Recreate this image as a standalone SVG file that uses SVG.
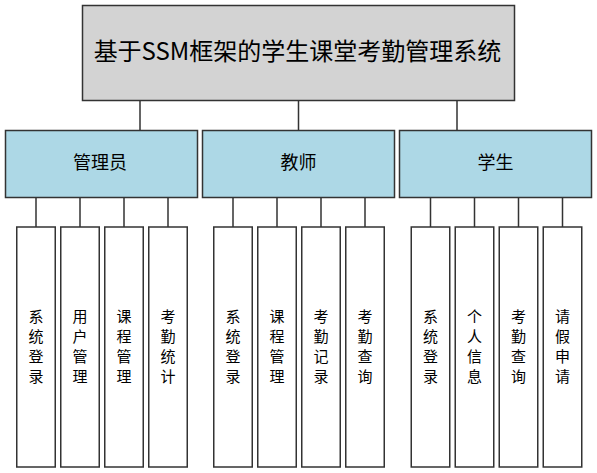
<svg xmlns="http://www.w3.org/2000/svg" width="597" height="473" viewBox="0 0 597 473">
<style>
.b{stroke:#333;stroke-width:1.5}
.t{font-family:"Noto Sans CJK SC","Noto Sans",sans-serif;fill:#000;text-anchor:middle}
.l{fill:#fff}
.lt{font-size:15px}
.c{stroke:#333;stroke-width:1.5;fill:none}
</style>
<rect width="597" height="473" fill="#fff"/>
<g id="connectors">
<path class="c" d="M140 101V130M298.5 101V130M457 101V130"/>
<path class="c" d="M36 198V227M80 198V227M124 198V227M168 198V227"/>
<path class="c" d="M233 198V227M277 198V227M321 198V227M365 198V227"/>
<path class="c" d="M430.5 198V227M474.5 198V227M518.5 198V227M562.5 198V227"/>
</g>
<g id="root">
<rect class="b" x="82.5" y="5.5" width="432" height="95" fill="#d3d3d3"/>
<text class="t" x="297.5" y="60" font-size="24">基于SSM框架的学生课堂考勤管理系统</text>
</g>
<g id="admin">
<rect class="b" x="5.5" y="130.5" width="192" height="67" fill="#add8e6"/>
<text class="t" x="100" y="169" font-size="18">管理员</text>
</g>
<g id="teacher">
<rect class="b" x="202.5" y="130.5" width="192" height="67" fill="#add8e6"/>
<text class="t" x="298.5" y="169" font-size="18">教师</text>
</g>
<g id="student">
<rect class="b" x="399.5" y="130.5" width="192" height="67" fill="#add8e6"/>
<text class="t" x="495.5" y="169" font-size="18">学生</text>
</g>
<g id="a1"><rect class="b l" x="16.75" y="227" width="38.5" height="240"/><text class="t lt" x="36"><tspan x="36" y="322">系</tspan><tspan x="36" y="342">统</tspan><tspan x="36" y="362">登</tspan><tspan x="36" y="382">录</tspan></text></g>
<g id="a2"><rect class="b l" x="60.75" y="227" width="38.5" height="240"/><text class="t lt" x="80"><tspan x="80" y="322">用</tspan><tspan x="80" y="342">户</tspan><tspan x="80" y="362">管</tspan><tspan x="80" y="382">理</tspan></text></g>
<g id="a3"><rect class="b l" x="104.75" y="227" width="38.5" height="240"/><text class="t lt" x="124"><tspan x="124" y="322">课</tspan><tspan x="124" y="342">程</tspan><tspan x="124" y="362">管</tspan><tspan x="124" y="382">理</tspan></text></g>
<g id="a4"><rect class="b l" x="148.75" y="227" width="38.5" height="240"/><text class="t lt" x="168"><tspan x="168" y="322">考</tspan><tspan x="168" y="342">勤</tspan><tspan x="168" y="362">统</tspan><tspan x="168" y="382">计</tspan></text></g>
<g id="t1"><rect class="b l" x="213.75" y="227" width="38.5" height="240"/><text class="t lt" x="233"><tspan x="233" y="322">系</tspan><tspan x="233" y="342">统</tspan><tspan x="233" y="362">登</tspan><tspan x="233" y="382">录</tspan></text></g>
<g id="t2"><rect class="b l" x="257.75" y="227" width="38.5" height="240"/><text class="t lt" x="277"><tspan x="277" y="322">课</tspan><tspan x="277" y="342">程</tspan><tspan x="277" y="362">管</tspan><tspan x="277" y="382">理</tspan></text></g>
<g id="t3"><rect class="b l" x="301.75" y="227" width="38.5" height="240"/><text class="t lt" x="321"><tspan x="321" y="322">考</tspan><tspan x="321" y="342">勤</tspan><tspan x="321" y="362">记</tspan><tspan x="321" y="382">录</tspan></text></g>
<g id="t4"><rect class="b l" x="345.75" y="227" width="38.5" height="240"/><text class="t lt" x="365"><tspan x="365" y="322">考</tspan><tspan x="365" y="342">勤</tspan><tspan x="365" y="362">查</tspan><tspan x="365" y="382">询</tspan></text></g>
<g id="s1"><rect class="b l" x="411.25" y="227" width="38.5" height="240"/><text class="t lt" x="430.5"><tspan x="430.5" y="322">系</tspan><tspan x="430.5" y="342">统</tspan><tspan x="430.5" y="362">登</tspan><tspan x="430.5" y="382">录</tspan></text></g>
<g id="s2"><rect class="b l" x="455.25" y="227" width="38.5" height="240"/><text class="t lt" x="474.5"><tspan x="474.5" y="322">个</tspan><tspan x="474.5" y="342">人</tspan><tspan x="474.5" y="362">信</tspan><tspan x="474.5" y="382">息</tspan></text></g>
<g id="s3"><rect class="b l" x="499.25" y="227" width="38.5" height="240"/><text class="t lt" x="518.5"><tspan x="518.5" y="322">考</tspan><tspan x="518.5" y="342">勤</tspan><tspan x="518.5" y="362">查</tspan><tspan x="518.5" y="382">询</tspan></text></g>
<g id="s4"><rect class="b l" x="543.25" y="227" width="38.5" height="240"/><text class="t lt" x="562.5"><tspan x="562.5" y="322">请</tspan><tspan x="562.5" y="342">假</tspan><tspan x="562.5" y="362">申</tspan><tspan x="562.5" y="382">请</tspan></text></g>
</svg>
